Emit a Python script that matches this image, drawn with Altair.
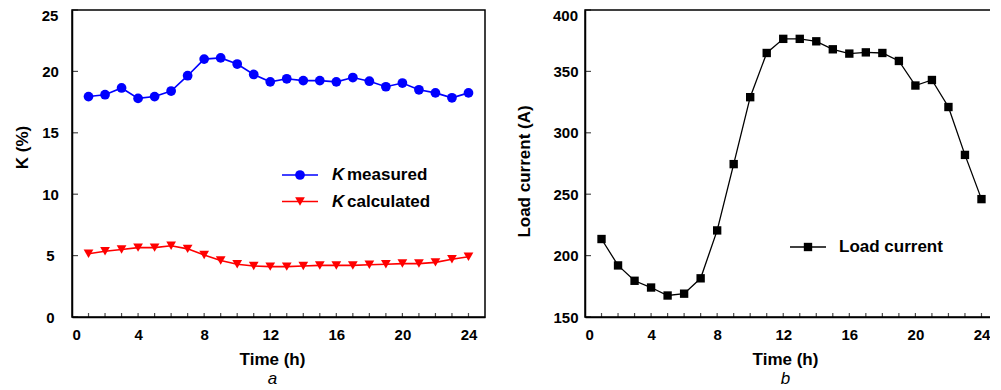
import altair as alt
import pandas as pd

# ---------------- data ----------------
hours = [1, 2, 3, 4, 5, 6, 7, 8, 9, 10, 11, 12, 13, 14, 15, 16, 17, 18, 19, 20, 21, 22, 23, 24]
k_measured = [17.95, 18.1, 18.65, 17.8, 17.95, 18.4, 19.65, 21.0, 21.1, 20.6, 19.75, 19.15,
              19.4, 19.25, 19.25, 19.15, 19.5, 19.2, 18.75, 19.05, 18.5, 18.25, 17.85, 18.25]
k_calculated = [5.15, 5.35, 5.5, 5.65, 5.65, 5.8, 5.55, 5.05, 4.6, 4.3, 4.15, 4.1,
                4.1, 4.15, 4.2, 4.2, 4.2, 4.25, 4.3, 4.35, 4.35, 4.45, 4.7, 4.9]
load_current = [213.5, 192, 179.5, 174, 167.5, 169, 181.5, 220.5, 274.5, 329, 365, 376.5,
                376.5, 374.5, 368, 364.5, 365.5, 365, 358.5, 338.5, 343, 321, 282, 246]

x_label_values = [0, 2, 4, 6, 8, 10, 12, 14, 16, 18, 20, 22, 24]
x_minor_ticks = [1, 2, 3, 4, 5, 6, 7, 8, 9, 10, 11, 12, 13, 14, 15, 16, 17, 18, 19, 20, 21, 22, 23, 24]
k_axis_values = [0, 5, 10, 15, 20, 25]
current_axis_values = [150, 200, 250, 300, 350, 400]
x_domain = [0, 25]
k_domain = [0, 25]
current_domain = [150, 400]

series_names = ["K measured", "K calculated", "Load current"]
caption_left = "a"
caption_right = "b"

FONT = "Liberation Sans"
BLUE = "#0000FF"
RED = "#FF0000"
BLACK = "#000000"
W, H = 413, 307

df_k = pd.DataFrame({
    "Time": hours + hours,
    "K": k_measured + k_calculated,
    "series": [series_names[0]] * len(hours) + [series_names[1]] * len(hours),
})
df_i = pd.DataFrame({"Time": hours, "I": load_current})

xscale = alt.Scale(domain=x_domain, nice=False, zero=False)
kscale = alt.Scale(domain=k_domain, nice=False)
iscale = alt.Scale(domain=current_domain, nice=False, zero=False)


def x_axis():
    return alt.Axis(values=x_label_values, title="Time (h)", ticks=False, tickSize=0,
                    labelPadding=10, titlePadding=9, titleX=200, grid=False)


def legend_layers(entries, x0, color_shapes):
    layers = []
    for (label, y), (color, shape, size) in zip(entries, color_shapes):
        one = pd.DataFrame({"label": [label]})
        layers.append(alt.Chart(one).mark_rule(color=color, strokeWidth=1.6).encode(
            x=alt.value(x0), x2=alt.value(x0 + 36), y=alt.value(y)))
        layers.append(alt.Chart(one).mark_point(shape=shape, filled=True, size=size,
                                                color=color, opacity=1).encode(
            x=alt.value(x0 + 18), y=alt.value(y)))
    return layers


def caption(text):
    return alt.TitleParams(text, orient="bottom", fontStyle="italic", fontWeight="normal",
                           fontSize=17, font=FONT, anchor="middle", frame="group",
                           dx=-6, offset=4, color=BLACK)


def top_label(field, value, yscale, align, dx):
    # the topmost tick label sits just inside the frame, as in the original
    return alt.Chart(pd.DataFrame({field: [value]})).mark_text(
        font=FONT, fontSize=15, fontWeight="bold", color=BLACK, align=align,
        baseline="middle", dx=dx, dy=6).encode(
        y=alt.Y(f"{field}:Q", scale=yscale),
        x=alt.XDatum(x_domain[0], scale=xscale),
        text=alt.Text(f"{field}:Q"))


# ---------------- left panel ----------------
base_k = alt.Chart(df_k)
meas = base_k.transform_filter(alt.datum.series == series_names[0])
calc = base_k.transform_filter(alt.datum.series == series_names[1])

y_axis_k = alt.Axis(values=k_axis_values[:-1], title="K (%)", ticks=False, tickSize=0,
                    labelAlign="center", labelPadding=22, titlePadding=10, titleY=137,
                    grid=False)

enc_x = alt.X("Time:Q", scale=xscale, axis=x_axis())
enc_yk = alt.Y("K:Q", scale=kscale, axis=y_axis_k)

meas_line = meas.mark_line(color=BLUE, strokeWidth=1.6).encode(x=enc_x, y=enc_yk)
meas_pts = meas.mark_point(shape="circle", filled=True, size=95, color=BLUE, opacity=1).encode(
    x=enc_x, y=enc_yk)
calc_line = calc.mark_line(color=RED, strokeWidth=1.6).encode(x=enc_x, y=enc_yk)
calc_pts = calc.mark_point(shape="triangle-down", filled=True, size=95, color=RED, opacity=1).encode(
    x=enc_x, y=enc_yk)

xt_left = alt.Chart(pd.DataFrame({"Time": x_minor_ticks})).mark_tick(
    orient="vertical", size=4, thickness=1.2, color=BLACK, yOffset=-2).encode(
    x=enc_x, y=alt.YDatum(k_domain[0], scale=kscale, axis=y_axis_k))
yt_left = alt.Chart(pd.DataFrame({"K": k_axis_values})).mark_tick(
    orient="horizontal", size=6, thickness=1.2, color=BLACK, xOffset=3).encode(
    y=enc_yk, x=alt.XDatum(x_domain[0], scale=xscale, axis=x_axis()))
top_left = top_label("K", k_axis_values[-1], kscale, "center", -22)

leg_y1, leg_y2 = 165, 191.5
legend_left = legend_layers([(series_names[0], leg_y1), (series_names[1], leg_y2)], 210,
                            [(BLUE, "circle", 95), (RED, "triangle-down", 95)])
one_k = pd.DataFrame({"t": ["K"]})
txt_layers = []
for y, word in [(leg_y1, "measured"), (leg_y2, "calculated")]:
    txt_layers.append(alt.Chart(one_k).mark_text(
        font=FONT, fontSize=17, fontWeight="bold", fontStyle="italic", align="left",
        baseline="middle", color=BLACK).encode(x=alt.value(260), y=alt.value(y), text="t:N"))
    txt_layers.append(alt.Chart(pd.DataFrame({"t": [word]})).mark_text(
        font=FONT, fontSize=17, fontWeight="bold", align="left",
        baseline="middle", color=BLACK).encode(x=alt.value(275), y=alt.value(y), text="t:N"))

left = alt.layer(meas_line, calc_line, meas_pts, calc_pts, xt_left, yt_left, top_left,
                 *legend_left, *txt_layers).properties(
    width=W, height=H, title=caption(caption_left))

# ---------------- right panel ----------------
y_axis_i = alt.Axis(values=current_axis_values[:-1], title="Load current (A)", ticks=False,
                    tickSize=0, labelPadding=7, titlePadding=19, titleY=161, grid=False)

enc_xi = alt.X("Time:Q", scale=xscale, axis=x_axis())
enc_yi = alt.Y("I:Q", scale=iscale, axis=y_axis_i)

base_i = alt.Chart(df_i)
i_line = base_i.mark_line(color=BLACK, strokeWidth=1.3).encode(x=enc_xi, y=enc_yi)
i_pts = base_i.mark_point(shape="square", filled=True, size=70, color=BLACK, opacity=1).encode(
    x=enc_xi, y=enc_yi)

xt_right = alt.Chart(pd.DataFrame({"Time": x_minor_ticks})).mark_tick(
    orient="vertical", size=4, thickness=1.2, color=BLACK, yOffset=-2).encode(
    x=enc_xi, y=alt.YDatum(current_domain[0], scale=iscale, axis=y_axis_i))
yt_right = alt.Chart(pd.DataFrame({"I": current_axis_values})).mark_tick(
    orient="horizontal", size=6, thickness=1.2, color=BLACK, xOffset=3).encode(
    y=enc_yi, x=alt.XDatum(x_domain[0], scale=xscale, axis=x_axis()))
top_right = top_label("I", current_axis_values[-1], iscale, "right", -7)

leg_y3 = 237
legend_right = legend_layers([(series_names[2], leg_y3)], 205, [(BLACK, "square", 70)])
txt_right = alt.Chart(pd.DataFrame({"t": [series_names[2]]})).mark_text(
    font=FONT, fontSize=17, fontWeight="bold", align="left", baseline="middle",
    color=BLACK).encode(x=alt.value(254), y=alt.value(leg_y3), text="t:N")

right = alt.layer(i_line, i_pts, xt_right, yt_right, top_right, *legend_right,
                  txt_right).properties(
    width=W, height=H, title=caption(caption_right))

# the right panel runs past the image edge in the original, so it is cut by a negative
# right padding
chart = alt.hconcat(left, right, spacing=29).properties(
    padding={"left": 4, "top": 0, "right": -9, "bottom": 0}
).configure_view(
    stroke=BLACK, strokeWidth=1.5
).configure_axis(
    labelFont=FONT, titleFont=FONT, labelFontSize=15, titleFontSize=17,
    labelFontWeight="bold", titleFontWeight="bold", labelColor=BLACK, titleColor=BLACK,
    domainColor=BLACK, domainWidth=1.5
).configure_title(font=FONT)

chart.save("out.html", embed_options={"renderer": "svg", "actions": False})
